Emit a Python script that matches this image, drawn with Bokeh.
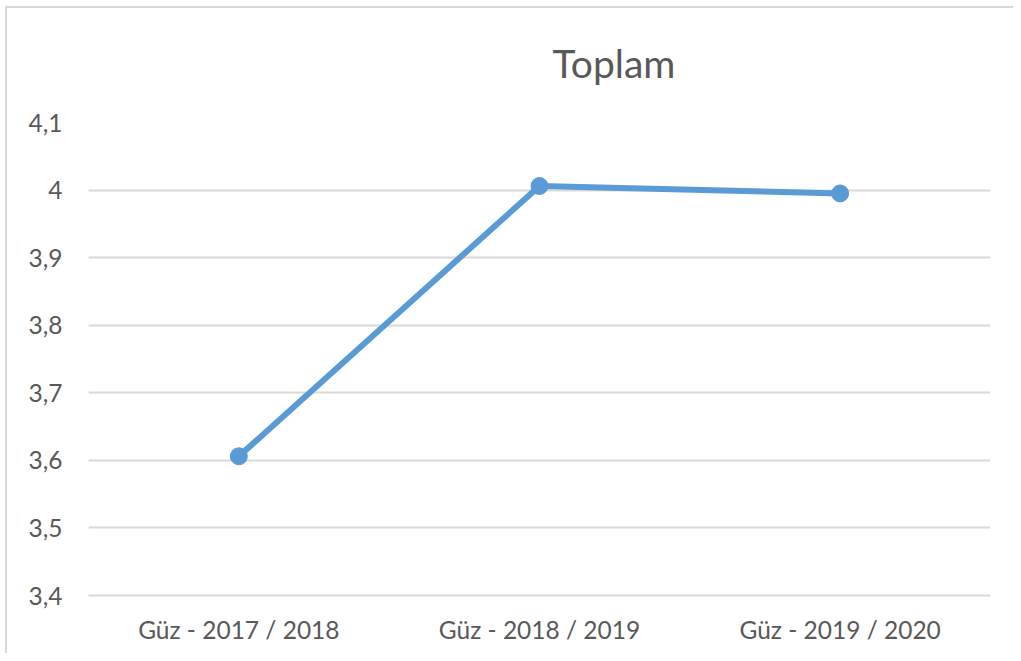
from bokeh.plotting import figure
from bokeh.models import FactorRange, Range1d, FixedTicker
from bokeh.embed import file_html
from bokeh.resources import INLINE

categories = ["Güz - 2017 / 2018", "Güz - 2018 / 2019", "Güz - 2019 / 2020"]
values = [3.606, 4.006, 3.995]
y_ticks = [3.4, 3.5, 3.6, 3.7, 3.8, 3.9, 4.0, 4.1]
y_tick_labels = ["3,4", "3,5", "3,6", "3,7", "3,8", "3,9", "4", "4,1"]
title_text = "Toplam"

FONT = "Lato"
TEXT_COLOR = "#595959"
GRID_COLOR = "#d9d9d9"
LINE_COLOR = "#5b9bd5"

W, H = 1013, 653
p = figure(
    x_range=FactorRange(*categories, range_padding=0),
    y_range=Range1d(3.4, 4.1),
    width=W, height=H,
    output_backend="svg", toolbar_location=None,
    min_border_left=88, min_border_right=23,
    min_border_top=121, min_border_bottom=58,
    title=title_text,
)
p.outline_line_color = None
p.background_fill_color = "white"
p.border_fill_color = "white"
p.border_fill_alpha = 0
# chart-area frame: thin grey top and left edges behind the transparent canvas border
p.styles = {
    "background-color": "white",
    "background-image": "linear-gradient(#d9d9d9, #d9d9d9), linear-gradient(#d9d9d9, #d9d9d9)",
    "background-size": "100% 2px, 2px 100%",
    "background-position": "6px 6px, 5px 6px",
    "background-repeat": "no-repeat",
}

p.title.align = "left"
p.title.offset = 464
p.title.standoff = 74
p.title.text_font = FONT
p.title.text_font_size = "39px"
p.title.text_font_style = "normal"
p.title.text_color = TEXT_COLOR

p.line(x=categories, y=values, line_width=6, line_color=LINE_COLOR, line_join="round")
p.scatter(x=categories, y=values, size=17, fill_color=LINE_COLOR, line_color=LINE_COLOR)

p.xgrid.grid_line_color = None
p.ygrid.grid_line_color = GRID_COLOR
p.ygrid.grid_line_width = 2
p.ygrid.ticker = FixedTicker(ticks=y_ticks)

p.yaxis.ticker = FixedTicker(ticks=y_ticks)
p.yaxis.major_label_overrides = dict(zip(y_ticks, y_tick_labels))
p.yaxis.axis_line_color = None
p.yaxis.major_tick_line_color = None
p.yaxis.minor_tick_line_color = None
p.yaxis.major_tick_out = 0
p.yaxis.major_tick_in = 0
p.yaxis.major_label_standoff = 26

p.xaxis.axis_line_color = GRID_COLOR
p.xaxis.axis_line_width = 2
p.xaxis.major_tick_line_color = None
p.xaxis.minor_tick_line_color = None
p.xaxis.major_tick_out = 0
p.xaxis.major_tick_in = 0
p.xaxis.major_label_standoff = 19

p.yaxis.major_label_text_font_size = "24.5px"
p.xaxis.major_label_text_font_size = "24.5px"
for ax in (p.xaxis, p.yaxis):
    ax.major_label_text_font = FONT
    ax.major_label_text_color = TEXT_COLOR

open("out.html", "w").write(file_html(p, INLINE))
